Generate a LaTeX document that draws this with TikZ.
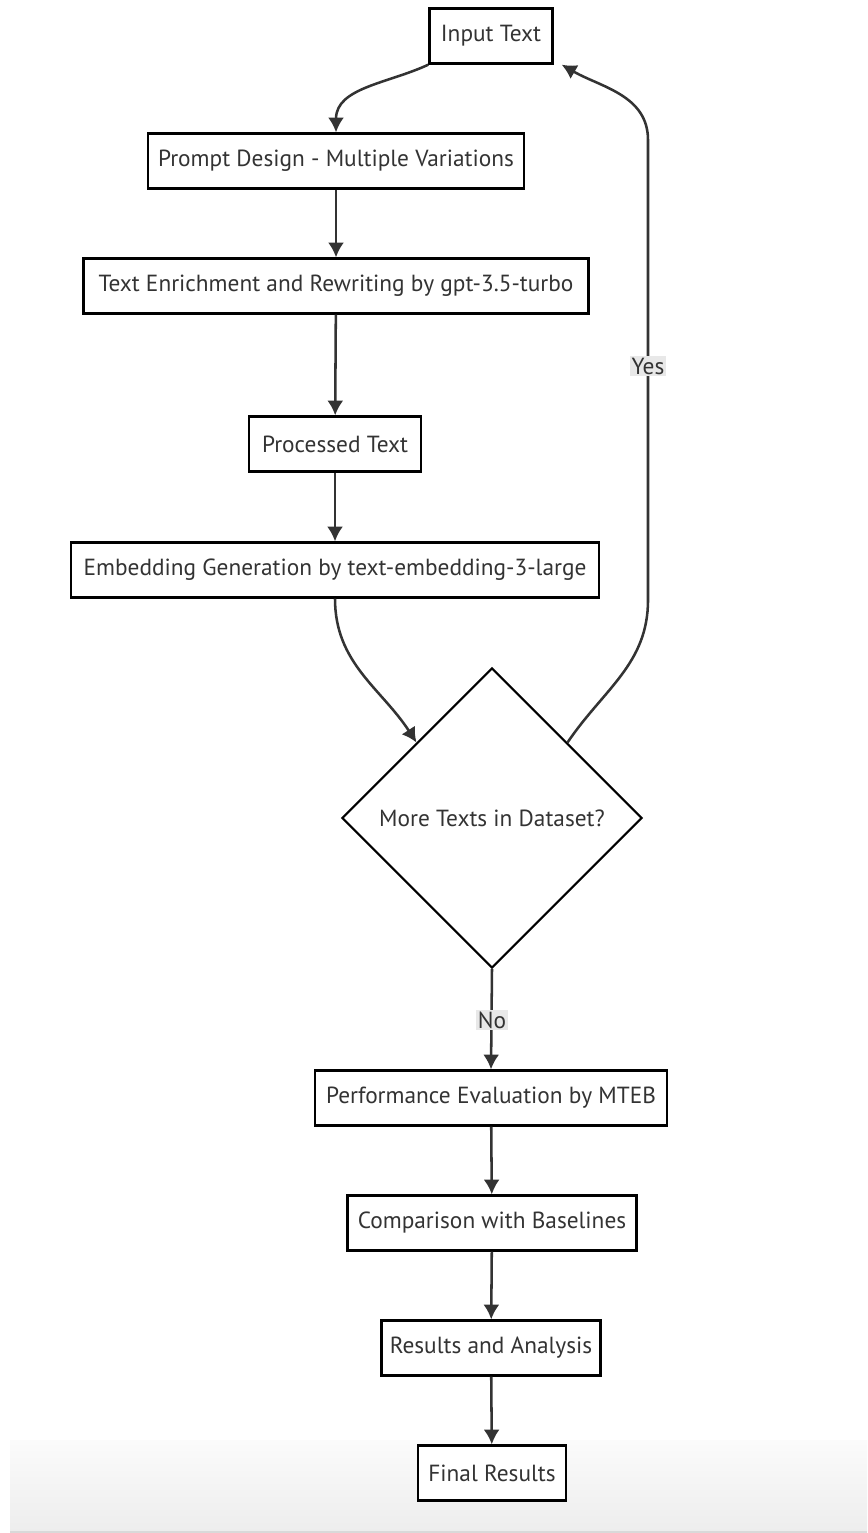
\documentclass[tikz,border=0pt]{standalone}
\usepackage{fontspec}
\setmainfont{PT Sans}
\usepackage{tikz}
\usetikzlibrary{arrows.meta,positioning,shapes.geometric}

\definecolor{ink}{HTML}{333333}
\definecolor{tagbg}{HTML}{E8E8E8}

\begin{document}
\begin{tikzpicture}[
  x=0.75pt,y=-0.75pt,
  stage/.style={draw=black,line width=2pt,fill=white,align=center,minimum height=41pt,inner xsep=6pt,text=ink,font=\fontsize{17.5}{20}\selectfont},
  choice/.style={diamond,aspect=1,draw=black,line width=1.6pt,fill=white,minimum size=225pt,inner sep=0pt,text=ink,font=\fontsize{17.5}{20}\selectfont},
  flow/.style={-{Latex[length=11pt,width=12pt]},line width=1.9pt,draw=ink},
  tag/.style={fill=tagbg,inner sep=1.5pt,text=ink,font=\fontsize{17.5}{20}\selectfont}
]
\useasboundingbox (0,0) rectangle (867,1533);
% bottom band of the screenshot
\shade[top color=gray!3,bottom color=gray!14] (10,1440) rectangle (867,1531);
\draw[gray!30,line width=1.2pt] (10,1532) -- (867,1532);

\node[stage,minimum width=92pt] (n0) at (491,36) {Input Text};
\node[stage,minimum width=282pt] (n1) at (336,161) {Prompt Design - Multiple Variations};
\node[stage,minimum width=379pt] (n2) at (336,286) {Text Enrichment and Rewriting by gpt-3.5-turbo};
\node[stage,minimum width=129pt] (n3) at (335,444) {Processed Text};
\node[stage,minimum width=396pt] (n4) at (335,570) {Embedding Generation by text-embedding-3-large};
\node[choice] (n5) at (492,818) {More Texts in Dataset?};
\node[stage,minimum width=264pt] (n6) at (491,1098) {Performance Evaluation by MTEB};
\node[stage,minimum width=217pt] (n7) at (492,1223) {Comparison with Baselines};
\node[stage,minimum width=164pt] (n8) at (491,1348) {Results and Analysis};
\node[stage,minimum width=111pt] (n9) at (492,1473) {Final Results};

\coordinate (y1) at (648,600);
\coordinate (y2) at (648,140);

\draw[flow] (n0.south west) to[out=205,in=90] (n1.north);
\draw[flow] (n1) -- (n2);
\draw[flow] (n2) -- (n3);
\draw[flow] (n3) -- (n4);
\draw[flow] (n4.south) to[out=-90,in=123] (n5.north west);
\draw[flow] (n5.north east) to[out=56,in=-90] (y1) -- (y2)
  to[out=90,in=-30] ([xshift=6pt]n0.south east);
\node[tag] (yes) at (648,366) {Yes};
\draw[flow] (n5.south) -- (n6.north);
\node[tag] (no) at (492,1020) {No};
\draw[flow] (n6) -- (n7);
\draw[flow] (n7) -- (n8);
\draw[flow] (n8) -- (n9);
\end{tikzpicture}
\end{document}
